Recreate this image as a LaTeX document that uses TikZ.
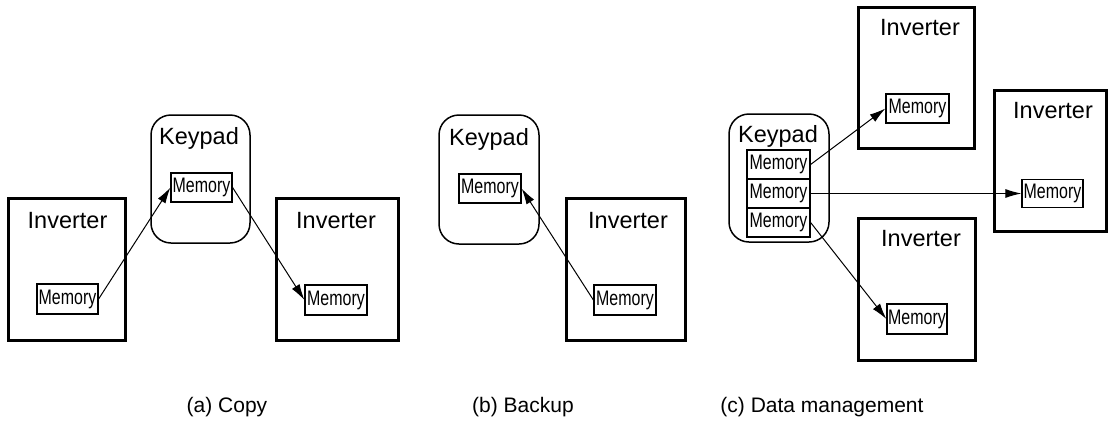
\documentclass[tikz,border=0pt]{standalone}
\usepackage{fontspec}
\setmainfont{Liberation Sans}
\usetikzlibrary{arrows.meta}
\tikzset{
  inv/.style={draw, line width=3pt, rectangle, inner sep=0pt},
  kp/.style={draw, line width=1.5pt, rectangle, rounded corners=20pt, inner sep=0pt},
  mem/.style={draw, line width=1.2pt, rectangle, inner sep=0pt,
    font=\fontsize{21}{24}\selectfont},
  big/.style={anchor=base, inner sep=0pt, font=\fontsize{23.5}{28}\selectfont},
  captxt/.style={anchor=base, inner sep=0pt, font=\fontsize{21}{24}\selectfont},
  arr/.style={-{Latex[length=16pt,width=9pt]}, line width=1pt}
}
\newcommand{\memtext}{\scalebox{0.76}[1]{Memory}}
\begin{document}
\begin{tikzpicture}[x=1pt,y=-1pt]
\useasboundingbox (0,0) rectangle (1109,421);
% ---------- (a) Copy ----------
\node[inv, minimum width=117pt, minimum height=142pt] (aInvL) at (66.5,269) {};
\node[big] (aInvLt) at (67.5,228) {Inverter};
\node[mem, minimum width=61pt, minimum height=30pt] (aMemL) at (67.5,299) {\memtext};
\node[kp, minimum width=99pt, minimum height=128pt] (aKp) at (200.5,179) {};
\node[big] (aKpt) at (199,144) {Keypad};
\node[mem, minimum width=61pt, minimum height=29pt] (aMemK) at (201.5,187.5) {\memtext};
\node[inv, minimum width=122pt, minimum height=142pt] (aInvR) at (337,269) {};
\node[big] (aInvRt) at (336,228) {Inverter};
\node[mem, minimum width=62pt, minimum height=30pt] (aMemR) at (336,300) {\memtext};
\draw[arr] (aMemL.east) -- (aMemK.west);
\draw[arr] (aMemK.east) -- (aMemR.west);
\node[captxt] (capA) at (227,412) {(a) Copy};
% ---------- (b) Backup ----------
\node[kp, minimum width=100pt, minimum height=129pt] (bKp) at (489,179.5) {};
\node[big] (bKpt) at (489,145) {Keypad};
\node[mem, minimum width=62pt, minimum height=29pt] (bMemK) at (490,188.5) {\memtext};
\node[inv, minimum width=119pt, minimum height=142pt] (bInv) at (625.5,269) {};
\node[big] (bInvt) at (628,228) {Inverter};
\node[mem, minimum width=62pt, minimum height=30pt] (bMem) at (625,300) {\memtext};
\draw[arr] (bMem.west) -- (bMemK.east);
\node[captxt] (capB) at (523,412) {(b) Backup};
% ---------- (c) Data management ----------
\node[kp, minimum width=100pt, minimum height=128pt] (cKp) at (779,178) {};
\node[big] (cKpt) at (778,142) {Keypad};
\node[mem, minimum width=63pt, minimum height=29pt] (cM1) at (778.5,164.5) {\memtext};
\node[mem, minimum width=63pt, minimum height=29pt] (cM2) at (778.5,193.5) {\memtext};
\node[mem, minimum width=63pt, minimum height=29pt] (cM3) at (778.5,222.5) {\memtext};
\node[inv, minimum width=116pt, minimum height=141pt] (cInvT) at (916,77.5) {};
\node[big] (cInvTt) at (920,35) {Inverter};
\node[mem, minimum width=63pt, minimum height=29pt] (cMemT) at (917.5,108.5) {\memtext};
\node[inv, minimum width=112pt, minimum height=141pt] (cInvR) at (1050,160.5) {};
\node[big] (cInvRt) at (1053,118) {Inverter};
\node[mem, minimum width=61pt, minimum height=28pt] (cMemR) at (1052.5,193.5) {\memtext};
\node[inv, minimum width=117pt, minimum height=142pt] (cInvB) at (916.5,289) {};
\node[big] (cInvBt) at (921,246) {Inverter};
\node[mem, minimum width=60pt, minimum height=30pt] (cMemB) at (917,319) {\memtext};
\draw[arr] (cM1.east) -- (cMemT.west);
\draw[arr] (cM2.east) -- (cMemR.west);
\draw[arr] (cM3.east) -- (cMemB.west);
\node[captxt] (capC) at (822,412) {(c) Data management};
\end{tikzpicture}
\end{document}
